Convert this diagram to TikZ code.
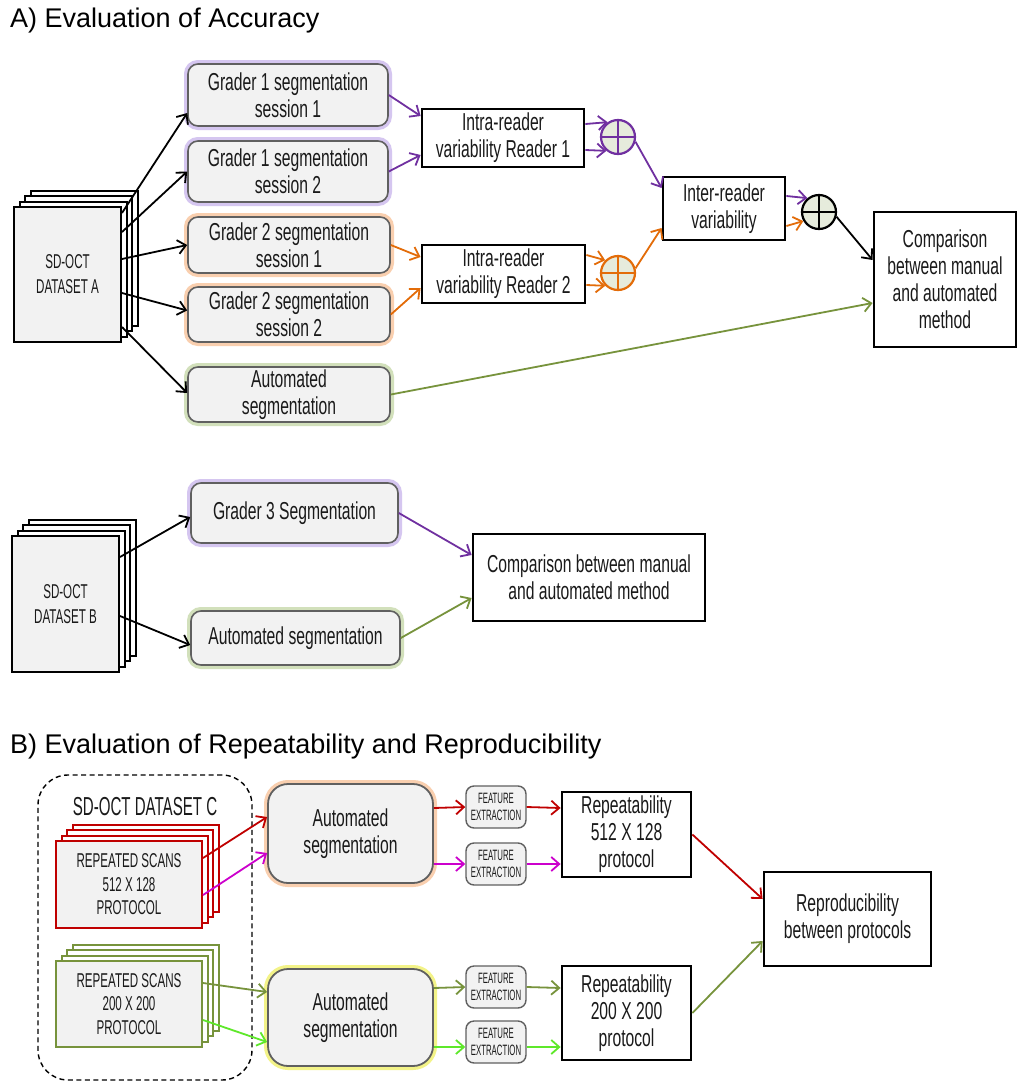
\documentclass[tikz,border=0pt]{standalone}
\usepackage{fontspec}
\setmainfont{Liberation Sans}
\newfontfamily\agency[FakeStretch=0.64]{Liberation Sans}
\newfontfamily\agencycaps[FakeStretch=0.58]{Liberation Sans}
\newfontfamily\agencysmall[FakeStretch=0.52]{Liberation Sans}
\usetikzlibrary{arrows.meta,calc}
\definecolor{purp}{HTML}{7030A0}
\definecolor{orng}{HTML}{E36C09}
\definecolor{olive}{HTML}{77933C}
\definecolor{dred}{HTML}{C00000}
\definecolor{magen}{HTML}{CC00CC}
\definecolor{lgreen}{HTML}{5EE82A}
\definecolor{glowpurp}{HTML}{B9A0E6}
\definecolor{gloworng}{HTML}{F6B07A}
\definecolor{glowgreen}{HTML}{B5CC8E}
\definecolor{glowyel}{HTML}{ECEC3A}
\definecolor{boxfill}{HTML}{F2F2F2}
\definecolor{boxedge}{HTML}{606060}
\definecolor{circfill}{HTML}{E6EBDC}
\definecolor{txt}{HTML}{1A1A1A}
\tikzset{
  mainfont/.style={font=\agency\fontsize{24.5}{27}\selectfont, text=txt},
  gbox/.style={draw=boxedge, fill=boxfill, rounded corners=10pt, line width=1.6pt,
    inner sep=0pt, align=center, mainfont},
  glow/.style={preaction={draw=#1, line width=8pt, opacity=0.6}},
  bbox/.style={draw=black, fill=white, line width=2.8pt, inner sep=0pt, align=center, mainfont},
  sheet/.style={draw=#1, fill=white, line width=2pt, inner sep=0pt},
  fsheet/.style={draw=#1, fill=boxfill, line width=2pt, inner sep=0pt, align=center, text=txt},
  circ/.style={circle, draw=#1, fill=circfill, line width=2.2pt, minimum size=34pt, inner sep=0pt,
    path picture={\draw[#1, line width=2.2pt]
      (path picture bounding box.north) -- (path picture bounding box.south)
      (path picture bounding box.west) -- (path picture bounding box.east);}},
  arr/.style={line width=1.8pt, draw=#1, -{Straight Barb[length=8pt,width=14pt]}},
  arr/.default=black,
  febox/.style={draw=boxedge, fill=boxfill, rounded corners=8pt, line width=1.4pt,
    minimum width=60pt, minimum height=42pt, inner sep=0pt, align=center, text=txt,
    font=\agencysmall\fontsize{15}{17.5}\selectfont},
  title/.style={anchor=base west, inner sep=0pt, font=\fontsize{27}{30}\selectfont, text=black},
}
\begin{document}
\begin{tikzpicture}[x=1pt, y=-1pt]
\useasboundingbox (0,0) rectangle (1018,1082);
\fill[white] (0,0) rectangle (1018,1082);

% ---------- Titles ----------
\node[title] (tA) at (10,27) {A) Evaluation of Accuracy};
\node[title] (tB) at (10,753) {B) Evaluation of Repeatability and Reproducibility};

% ---------- Dataset A ----------
\node[sheet=black, minimum width=107pt, minimum height=135pt] (dsA3) at (84,258) {};
\node[sheet=black, minimum width=107pt, minimum height=135pt] (dsA2) at (78.5,263.5) {};
\node[sheet=black, minimum width=107pt, minimum height=135pt] (dsA1) at (73,269) {};
\node[fsheet=black, minimum width=107pt, minimum height=135pt,
      font=\agencycaps\fontsize{20}{25}\selectfont] (dsA) at (67.5,274.5) {SD-OCT\\DATASET A};

\node[gbox, glow=glowpurp, minimum width=200pt, minimum height=62pt] (g1s1) at (288,95) {Grader 1 segmentation\\session 1};
\node[gbox, glow=glowpurp, minimum width=200pt, minimum height=61pt] (g1s2) at (288,171.5) {Grader 1 segmentation\\session 2};
\node[gbox, glow=gloworng, minimum width=202pt, minimum height=56pt] (g2s1) at (289,245) {Grader 2 segmentation\\session 1};
\node[gbox, glow=gloworng, minimum width=202pt, minimum height=55pt] (g2s2) at (289,314.5) {Grader 2 segmentation\\session 2};
\node[gbox, glow=glowgreen, minimum width=202pt, minimum height=55pt] (autoA) at (289,394.5) {Automated\\segmentation};

\node[bbox, minimum width=162pt, minimum height=58pt] (intra1) at (503,138) {Intra-reader\\variability Reader 1};
\node[bbox, minimum width=163pt, minimum height=58pt] (intra2) at (503.5,274) {Intra-reader\\variability Reader 2};
\node[bbox, minimum width=122pt, minimum height=63pt] (inter) at (724,208.5) {Inter-reader\\variability};
\node[bbox, minimum width=142pt, minimum height=135pt] (compA) at (945,279.5) {Comparison\\between manual\\and automated\\method};

\node[circ=purp] (c1) at (618,137) {};
\node[circ=orng] (c2) at (618,273) {};
\node[circ=black] (c3) at (819,212) {};

\draw[arr] ([yshift=61.5pt]dsA.east) -- ([yshift=-18pt]g1s1.west);
\draw[arr] ([yshift=42.5pt]dsA.east) -- (g1s2.west);
\draw[arr] ([yshift=15.5pt]dsA.east) -- (g2s1.west);
\draw[arr] ([yshift=-18.5pt]dsA.east) -- ([yshift=4pt]g2s2.west);
\draw[arr] ([yshift=-52.5pt]dsA.east) -- ([yshift=1.5pt]autoA.west);

\draw[arr=purp] (g1s1.east) -- ([yshift=22pt]intra1.west);
\draw[arr=purp] (g1s2.east) -- ([yshift=-17pt]intra1.west);
\draw[arr=orng] (g2s1.east) -- ([yshift=17pt]intra2.west);
\draw[arr=orng] (g2s2.east) -- ([yshift=-14pt]intra2.west);

\draw[arr=purp] ([yshift=14pt]intra1.east) -- (c1.125);
\draw[arr=purp] ([yshift=-12pt]intra1.east) -- (c1.230);
\draw[arr=orng] ([yshift=19pt]intra2.east) -- (c2.135);
\draw[arr=orng] ([yshift=-11pt]intra2.east) -- (c2.225);

\draw[arr=purp] (c1.-15) -- ([yshift=20.5pt]inter.west);
\draw[arr=orng] (c2.15) -- ([yshift=-19.5pt]inter.west);

\draw[arr=purp] ([yshift=12.5pt]inter.east) -- (c3.130);
\draw[arr=orng] ([yshift=-17.5pt]inter.east) -- (c3.210);

\draw[arr] (c3.-15) -- ([yshift=19.5pt]compA.west);
\draw[arr=olive] (autoA.east) -- ([yshift=-23.5pt]compA.west);

% ---------- Dataset B ----------
\node[sheet=black, minimum width=107pt, minimum height=136pt] (dsB3) at (82,587.5) {};
\node[sheet=black, minimum width=107pt, minimum height=136pt] (dsB2) at (76.5,593) {};
\node[sheet=black, minimum width=107pt, minimum height=136pt] (dsB1) at (71,598.5) {};
\node[fsheet=black, minimum width=107pt, minimum height=136pt,
      font=\agencycaps\fontsize{20}{25}\selectfont] (dsB) at (65.5,604) {SD-OCT\\DATASET B};

\node[gbox, glow=glowpurp, minimum width=207pt, minimum height=60pt] (g3) at (294.5,513) {Grader 3 Segmentation};
\node[gbox, glow=glowgreen, minimum width=209pt, minimum height=54pt] (autoB) at (295.5,638) {Automated segmentation};
\node[bbox, minimum width=232pt, minimum height=87pt] (compB) at (589,577.5) {Comparison between manual\\and automated method};

\draw[arr] ([yshift=47pt]dsB.east) -- ([yshift=-4pt]g3.west);
\draw[arr] ([yshift=-12pt]dsB.east) -- ([yshift=-7pt]autoB.west);
\draw[arr=purp] (g3.east) -- ([yshift=22.5pt]compB.west);
\draw[arr=olive] (autoB.east) -- ([yshift=-20.5pt]compB.west);

% ---------- Dataset C ----------
\node[draw=black, dash pattern=on 5pt off 3.5pt, line width=1.4pt, rounded corners=30pt,
      minimum width=214pt, minimum height=305pt, inner sep=0pt] (dsCbox) at (145,927.5) {};
\node[font=\agencycaps\fontsize{26}{28}\selectfont, text=txt, inner sep=0pt] (dsClabel) at (145,807) {SD-OCT DATASET C};

\node[sheet=dred, minimum width=146pt, minimum height=87pt] (rs3) at (145.5,868) {};
\node[sheet=dred, minimum width=146pt, minimum height=87pt] (rs2) at (140,873.5) {};
\node[sheet=dred, minimum width=146pt, minimum height=87pt] (rs1) at (134.5,879) {};
\node[fsheet=dred, minimum width=146pt, minimum height=87pt,
      font=\agencycaps\fontsize{20}{23.5}\selectfont] (rs) at (129,884.5) {REPEATED SCANS\\512 X 128\\PROTOCOL};

\node[sheet=olive, minimum width=146pt, minimum height=86pt] (gs3) at (145.5,987.5) {};
\node[sheet=olive, minimum width=146pt, minimum height=86pt] (gs2) at (140,993) {};
\node[sheet=olive, minimum width=146pt, minimum height=86pt] (gs1) at (134.5,998.5) {};
\node[fsheet=olive, minimum width=146pt, minimum height=86pt,
      font=\agencycaps\fontsize{20}{23.5}\selectfont] (gs) at (129,1004) {REPEATED SCANS\\200 X 200\\PROTOCOL};

\node[gbox, glow=gloworng, rounded corners=20pt, line width=1.8pt, minimum width=165pt, minimum height=99pt] (auto1) at (350.5,833.5) {Automated\\segmentation};
\node[gbox, glow=glowyel, rounded corners=20pt, line width=1.8pt, minimum width=165pt, minimum height=97pt] (auto2) at (350.5,1017.5) {Automated\\segmentation};

\node[febox] (fe1) at (496,807) {FEATURE\\EXTRACTION};
\node[febox] (fe2) at (496,864) {FEATURE\\EXTRACTION};
\node[febox] (fe3) at (496,987) {FEATURE\\EXTRACTION};
\node[febox] (fe4) at (496,1042) {FEATURE\\EXTRACTION};

\node[bbox, minimum width=129pt, minimum height=85pt] (rep1) at (626.5,834.5) {Repeatability\\512 X 128\\protocol};
\node[bbox, minimum width=129pt, minimum height=94pt] (rep2) at (626.5,1013) {Repeatability\\200 X 200\\protocol};
\node[bbox, minimum width=167pt, minimum height=94pt] (repro) at (847.5,919) {Reproducibility\\between protocols};

\draw[arr=dred] ([yshift=26.5pt]rs.east) -- ([yshift=16.5pt]auto1.west);
\draw[arr=magen] ([yshift=-10.5pt]rs.east) -- ([yshift=-19.5pt]auto1.west);
\draw[arr=olive] ([yshift=21pt]gs.east) -- ([yshift=25.5pt]auto2.west);
\draw[arr=lgreen] ([yshift=-16pt]gs.east) -- ([yshift=-24.5pt]auto2.west);

\draw[arr=dred] ([yshift=25.5pt]auto1.east) -- (fe1.west);
\draw[arr=magen] ([yshift=-30.5pt]auto1.east) -- (fe2.west);
\draw[arr=olive] ([yshift=29.5pt]auto2.east) -- (fe3.west);
\draw[arr=lgreen] ([yshift=-29.5pt]auto2.east) -- ([yshift=-5pt]fe4.west);

\draw[arr=dred] (fe1.east) -- ([yshift=26.5pt]rep1.west);
\draw[arr=magen] (fe2.east) -- ([yshift=-29.5pt]rep1.west);
\draw[arr=olive] (fe3.east) -- ([yshift=25pt]rep2.west);
\draw[arr=lgreen] ([yshift=-5pt]fe4.east) -- ([yshift=-34pt]rep2.west);

\draw[arr=dred] (rep1.east) -- ([yshift=20pt]repro.west);
\draw[arr=olive] (rep2.east) -- ([yshift=-22pt]repro.west);
\end{tikzpicture}
\end{document}
